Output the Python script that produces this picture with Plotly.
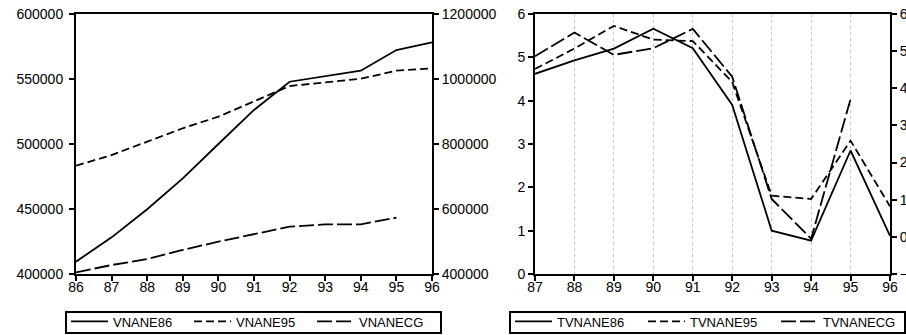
import plotly.graph_objects as go

# left panel: levels
years_a = [86, 87, 88, 89, 90, 91, 92, 93, 94, 95, 96]
vnane86 = [409500, 428200, 449800, 473600, 500000, 526200, 547900, 552300, 556400, 572300, 578200]
vnane95 = [733200, 766000, 807200, 848400, 884000, 930000, 978400, 989600, 1000800, 1025600, 1032800]
vnanecg = [405200, 427600, 446000, 474000, 499600, 523200, 545600, 552800, 552800, 573200, None]

# right panel: growth rates
years_b = [87, 88, 89, 90, 91, 92, 93, 94, 95, 96]
tvnane86 = [4.62, 4.93, 5.20, 5.66, 5.21, 3.90, 1.00, 0.77, 2.85, 0.88]
tvnane95 = [4.52, 5.07, 5.68, 5.31, 5.27, 4.17, 1.11, 1.02, 2.59, 0.82]
tvnanecg = [4.86, 5.50, 4.90, 5.08, 5.60, 4.31, 1.02, -0.05, 3.71, None]

W, H = 906, 335
def px(x): return x / W
def py(y): return 1 - y / H

font = "Liberation Sans, Arial, sans-serif"
LW = 1.8

fig = go.Figure()

fig.add_trace(go.Scatter(x=years_a, y=vnane86, name="VNANE86", mode="lines",
                         line=dict(color="black", width=LW), xaxis="x", yaxis="y", legend="legend"))
fig.add_trace(go.Scatter(x=years_a, y=vnane95, name="VNANE95", mode="lines",
                         line=dict(color="black", width=LW, dash="8px,4px"), xaxis="x", yaxis="y2", legend="legend"))
fig.add_trace(go.Scatter(x=years_a, y=vnanecg, name="VNANECG", mode="lines",
                         line=dict(color="black", width=LW, dash="15px,4px"), xaxis="x", yaxis="y2", legend="legend"))

fig.add_trace(go.Scatter(x=years_b, y=tvnane86, name="TVNANE86", mode="lines",
                         line=dict(color="black", width=LW), xaxis="x2", yaxis="y3", legend="legend2"))
fig.add_trace(go.Scatter(x=years_b, y=tvnane95, name="TVNANE95", mode="lines",
                         line=dict(color="black", width=LW, dash="8px,4px"), xaxis="x2", yaxis="y4", legend="legend2"))
fig.add_trace(go.Scatter(x=years_b, y=tvnanecg, name="TVNANECG", mode="lines",
                         line=dict(color="black", width=LW, dash="15px,4px"), xaxis="x2", yaxis="y4", legend="legend2"))

ax = dict(showline=True, linecolor="black", linewidth=2, ticks="outside", ticklen=5,
          tickwidth=1.5, tickcolor="black", showgrid=False, zeroline=False,
          ticklabeloverflow="allow",
          tickfont=dict(family=font, size=14, color="black"))
ydom = [py(274), py(14)]

# legend frames
boxes = [(66, 441), (510, 905)]
shapes = [dict(type="rect", xref="paper", yref="paper", x0=px(a), x1=px(b),
               y0=py(333), y1=py(312), line=dict(color="black", width=2))
          for a, b in boxes]

leg = dict(orientation="h", yanchor="middle", xanchor="left", borderwidth=0,
           bgcolor="rgba(0,0,0,0)", font=dict(family=font, size=13),
           entrywidthmode="pixels", itemwidth=37)

fig.update_layout(
    width=W, height=H,
    margin=dict(l=0, r=0, t=0, b=0, autoexpand=False),
    paper_bgcolor="white", plot_bgcolor="white",
    font=dict(family=font, size=14, color="black"),
    xaxis=dict(ax, domain=[px(76), px(432)], range=[86, 96], tickvals=years_a,
               mirror=True, anchor="y", ticklabelstandoff=-6),
    yaxis=dict(ax, domain=ydom, range=[400000, 600000], dtick=50000, tickformat="d",
               anchor="x", ticklabelstandoff=3),
    yaxis2=dict(ax, range=[400000, 1200000], dtick=200000, tickformat="d",
                overlaying="y", side="right", anchor="x"),
    xaxis2=dict(ax, domain=[px(535), px(890)], range=[87, 96], tickvals=years_b,
                mirror=True, anchor="y3", showgrid=True, gridcolor="#c4c4c4",
                gridwidth=1, griddash="3px,3px", ticklabelstandoff=-6),
    yaxis3=dict(ax, domain=ydom, range=[0, 6], dtick=1, anchor="x2"),
    yaxis4=dict(ax, range=[-1, 6], dtick=1, overlaying="y3", side="right", anchor="x2"),
    legend=dict(leg, x=px(66), y=py(321.5), entrywidth=71),
    legend2=dict(leg, x=px(510), y=py(321.5), entrywidth=81),
    shapes=shapes,
    showlegend=True,
)

fig.write_html("out.html", config={"displayModeBar": False},
               post_script="document.body.style.margin='0';")
